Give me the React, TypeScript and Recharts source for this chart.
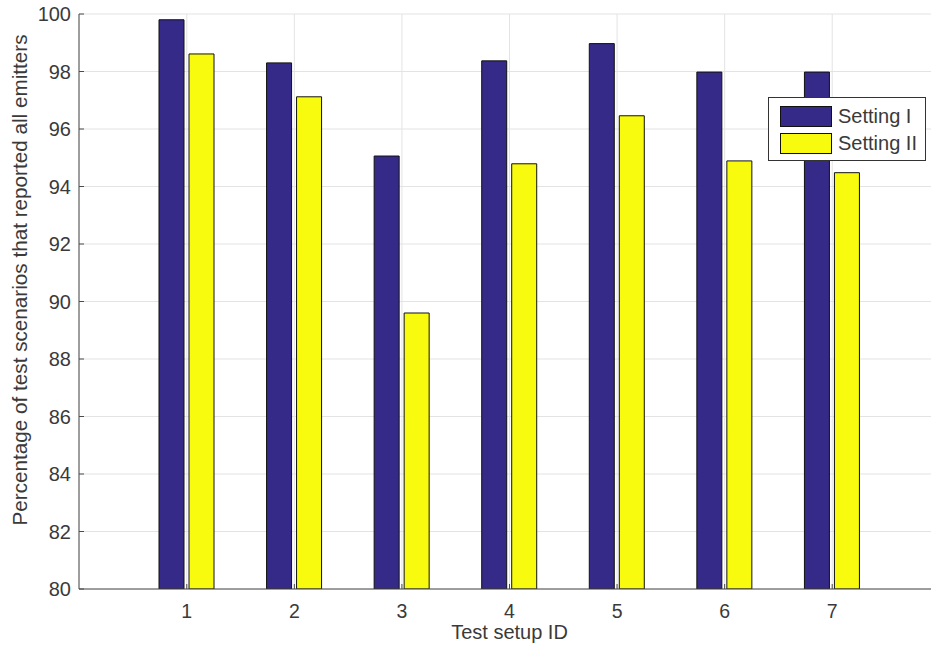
import React from "react";
import { BarChart, Bar, XAxis, YAxis, CartesianGrid, Legend, Label } from "recharts";

const setupIds = ["1", "2", "3", "4", "5", "6", "7"];
const settingI = [99.8, 98.3, 95.06, 98.37, 98.97, 97.98, 97.98];
const settingII = [98.61, 97.12, 89.6, 94.79, 96.46, 94.89, 94.48];
const yTicks = [80, 82, 84, 86, 88, 90, 92, 94, 96, 98, 100];

const data = setupIds.map((id, i) => ({ id, s1: settingI[i], s2: settingII[i] }));

const FONT = "'Liberation Sans', Arial, Helvetica, sans-serif";
const TEXT = "#3a3a3a";
const AXIS = "#4a4a4a";

const LegendBox = (props: any) => {
  const payload = props.payload || [];
  return (
    <div
      style={{
        width: 158,
        height: 64,
        border: "1px solid #333",
        background: "#fff",
        position: "relative",
        fontFamily: FONT,
        fontSize: 20,
        color: TEXT,
        boxSizing: "border-box",
      }}
    >
      {payload.map((p: any, i: number) => (
        <div key={i} style={{ position: "absolute", left: 11, top: 7 + i * 27, height: 22, display: "flex", alignItems: "center" }}>
          <div style={{ width: 52, height: 21, background: p.color, border: "1px solid #111", boxSizing: "border-box" }} />
          <span style={{ marginLeft: 6, lineHeight: "22px", whiteSpace: "nowrap" }}>{p.value}</span>
        </div>
      ))}
    </div>
  );
};

export default function App() {
  return (
    <div style={{ position: "absolute", left: 0, top: 0, width: 931, height: 648, overflow: "hidden", background: "#fff" }}>
      <BarChart
        width={960}
        height={648}
        data={data}
        margin={{ top: 14, right: 20, bottom: 0, left: 0 }}
        barSize={25}
        barGap={5}
      >
        <CartesianGrid stroke="#e3e3e3" strokeWidth={1} />
        <XAxis
          dataKey="id"
          height={59}
          padding={{ left: 54, right: 54 }}
          stroke={AXIS}
          tickSize={-5}
          tickMargin={20}
          tick={{ fill: TEXT, fontSize: 19.5, fontFamily: FONT }}
        >
          <Label
            content={(p: any) => {
              const vb = p.viewBox || {};
              return (
                <text x={vb.x + vb.width / 2} y={639} textAnchor="middle" fill={TEXT} fontSize={20} fontFamily={FONT}>
                  Test setup ID
                </text>
              );
            }}
          />
        </XAxis>
        <XAxis
          xAxisId="top"
          dataKey="id"
          orientation="top"
          height={0}
          padding={{ left: 54, right: 54 }}
          stroke={AXIS}
          tickSize={-5}
          tick={() => <g />}
        />
        <YAxis
          width={79}
          domain={[80, 100]}
          ticks={yTicks}
          allowDataOverflow
          stroke={AXIS}
          tickSize={-5}
          tickMargin={13}
          tick={{ fill: TEXT, fontSize: 20, fontFamily: FONT }}
        >
          <Label
            content={() => (
              <text
                x={26.5}
                y={280}
                transform="rotate(-90, 26.5, 280)"
                textAnchor="middle"
                fill={TEXT}
                fontSize={20.7}
                fontFamily={FONT}
              >
                Percentage of test scenarios that reported all emitters
              </text>
            )}
          />
        </YAxis>
        <Legend
          layout="horizontal"
          verticalAlign="middle"
          align="center"
          content={LegendBox}
          wrapperStyle={{ position: "absolute", left: 768, top: 97, width: 158, height: 64 }}
        />
        <Bar dataKey="s1" name="Setting I" fill="#352a87" stroke="#111" strokeWidth={1} isAnimationActive={false} />
        <Bar dataKey="s2" name="Setting II" fill="#f9fb0e" stroke="#111" strokeWidth={1} isAnimationActive={false} />
      </BarChart>
    </div>
  );
}
